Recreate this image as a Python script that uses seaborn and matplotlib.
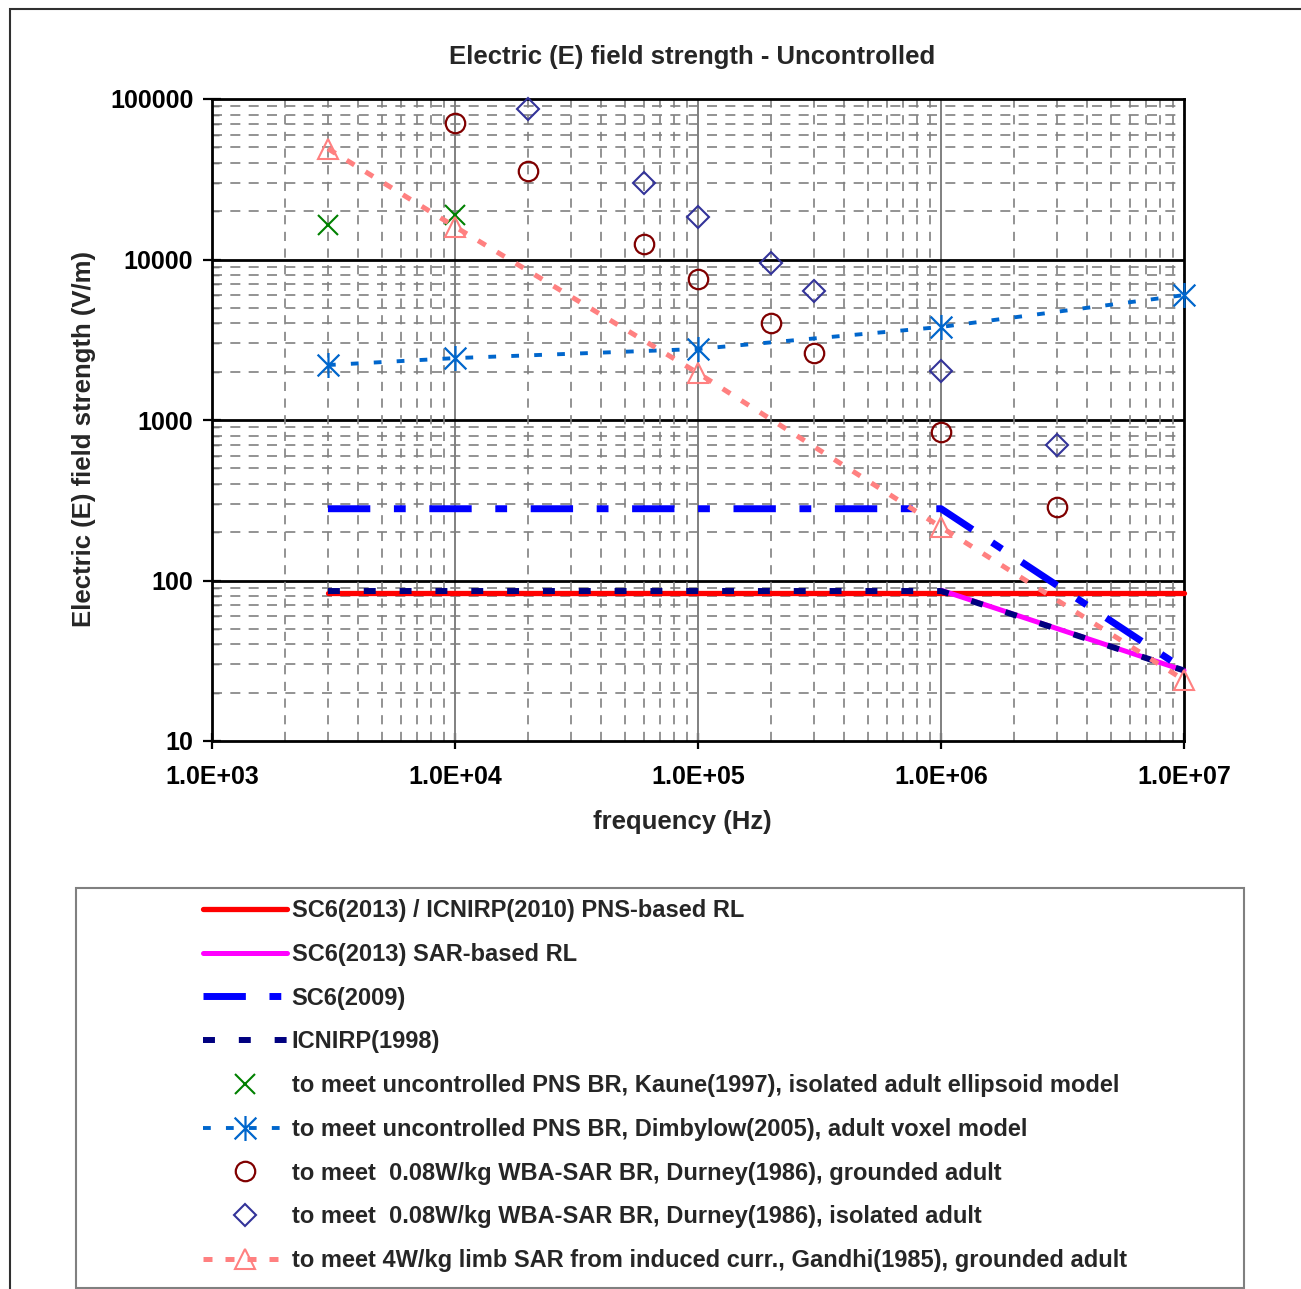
import matplotlib
matplotlib.use("Agg")
import matplotlib.pyplot as plt
from matplotlib.lines import Line2D
from matplotlib.patches import Rectangle
from matplotlib.path import Path
from matplotlib.ticker import FixedLocator, NullFormatter, LogLocator
import seaborn as sns
import pandas as pd

# ---- data -------------------------------------------------------------
pns_rl_freq = [3e3, 1e7]
pns_rl_e = [83, 83]

sar_rl_freq = [1e6, 1e7]
sar_rl_e = [87, 27.5]

sc6_2009_freq = [3e3, 1e6, 1e7]
sc6_2009_e = [280, 280, 28]

icnirp_1998_freq = [3e3, 1e6, 1e7]
icnirp_1998_e = [86, 86, 27.5]

kaune_freq = [3e3, 1e4]
kaune_e = [16400, 18900]

dimbylow_freq = [3e3, 1e4, 1e5, 1e6, 1e7]
dimbylow_e = [2200, 2430, 2770, 3800, 6000]

durney_gnd_freq = [1e4, 2e4, 6e4, 1e5, 2e5, 3e5, 1e6, 3e6]
durney_gnd_e = [70800, 35600, 12500, 7560, 4020, 2610, 842, 287]

durney_iso_freq = [2e4, 6e4, 1e5, 2e5, 3e5, 1e6, 3e6]
durney_iso_e = [86700, 30000, 18400, 9500, 6360, 2020, 698]

gandhi_freq = [3e3, 1e4, 1e5, 1e6, 1e7]
gandhi_e = [49000, 16000, 1960, 215, 24]

x_tick_values = [1e3, 1e4, 1e5, 1e6, 1e7]
x_tick_labels = ["1.0E+03", "1.0E+04", "1.0E+05", "1.0E+06", "1.0E+07"]
y_tick_values = [10, 100, 1000, 10000, 100000]
y_tick_labels = ["10", "100", "1000", "10000", "100000"]

labels = [
    "SC6(2013) / ICNIRP(2010) PNS-based RL",
    "SC6(2013) SAR-based RL",
    "SC6(2009)",
    "ICNIRP(1998)",
    "to meet uncontrolled PNS BR, Kaune(1997), isolated adult ellipsoid model",
    "to meet uncontrolled PNS BR, Dimbylow(2005), adult voxel model",
    "to meet  0.08W/kg WBA-SAR BR, Durney(1986), grounded adult",
    "to meet  0.08W/kg WBA-SAR BR, Durney(1986), isolated adult",
    "to meet 4W/kg limb SAR from induced curr., Gandhi(1985), grounded adult",
]

# ---- styles -----------------------------------------------------------
sns.set_theme(style="white")
plt.rcParams["font.family"] = ["Liberation Sans", "DejaVu Sans"]
plt.rcParams["font.weight"] = "bold"

W, H = 1301, 1289
fig = plt.figure(figsize=(W / 100, H / 100), dpi=100)
fig.patch.set_facecolor("white")


def fx(px):
    return px / W


def fy(py):
    return 1 - py / H


ax = fig.add_axes([fx(212), fy(741), fx(1184) - fx(212), fy(99) - fy(741)])
ax.set_xscale("log")
ax.set_yscale("log")
ax.set_xlim(1e3, 1e7)
ax.set_ylim(10, 1e5)

# asterisk marker: an X with a vertical bar through it
star_path = Path(
    [(-1, -1), (1, 1), (-1, 1), (1, -1), (0, -1.15), (0, 1.15)],
    [Path.MOVETO, Path.LINETO, Path.MOVETO, Path.LINETO, Path.MOVETO, Path.LINETO],
)

styles = [
    dict(color="#FF0000", lw=3.8, ls="-", marker=None),
    dict(color="#FF00FF", lw=3.6, ls="-", marker=None),
    dict(color="#0000FF", lw=5.0, ls=(0, (6.1, 3.4, 1.7, 3.4)), marker=None),
    dict(color="#000080", lw=4.3, ls=(0, (2.0, 4.0)), marker=None),
    dict(color="#008000", lw=0, ls="none", marker="x", ms=14, mew=1.5),
    dict(color="#0066CC", lw=2.8, ls=(0, (2.0, 3.9)), marker=star_path, ms=18, mew=1.6),
    dict(color="#800000", lw=0, ls="none", marker="o", ms=14, mew=1.6),
    dict(color="#333399", lw=0, ls="none", marker="D", ms=11, mew=1.5),
    dict(color="#FF8080", lw=3.6, ls=(0, (1.8, 2.6)), marker="^", ms=15, mew=1.5),
]

series = [
    (pns_rl_freq, pns_rl_e),
    (sar_rl_freq, sar_rl_e),
    (sc6_2009_freq, sc6_2009_e),
    (icnirp_1998_freq, icnirp_1998_e),
    (kaune_freq, kaune_e),
    (dimbylow_freq, dimbylow_e),
    (durney_gnd_freq, durney_gnd_e),
    (durney_iso_freq, durney_iso_e),
    (gandhi_freq, gandhi_e),
]

# ---- grid -------------------------------------------------------------
ax.xaxis.set_major_locator(FixedLocator(x_tick_values))
ax.yaxis.set_major_locator(FixedLocator(y_tick_values))
ax.xaxis.set_minor_locator(LogLocator(base=10, subs=range(2, 10), numticks=20))
ax.yaxis.set_minor_locator(LogLocator(base=10, subs=range(2, 10), numticks=20))
ax.xaxis.set_minor_formatter(NullFormatter())
ax.yaxis.set_minor_formatter(NullFormatter())
ax.set_xticklabels(x_tick_labels)
ax.set_yticklabels(y_tick_labels)

ax.grid(False)
for v in x_tick_values[1:-1]:
    ax.axvline(v, color="#808080", lw=1.4, zorder=1)
for v in y_tick_values[1:-1]:
    ax.axhline(v, color="black", lw=2.0, zorder=1)
for d in [1e3, 1e4, 1e5, 1e6]:
    for m in range(2, 10):
        ax.axvline(d * m, color="#808080", lw=1.2, ls=(0, (5.5, 4.5)), zorder=1)
for d in [10, 100, 1000, 10000]:
    for m in range(2, 10):
        ax.axhline(d * m, color="#808080", lw=1.2, ls=(0, (6, 5)), zorder=1)

# ---- series -----------------------------------------------------------
for (fq, ev), st in zip(series, styles):
    df = pd.DataFrame({"f": fq, "E": ev})
    kw = dict(color=st["color"], linewidth=st["lw"], linestyle=st["ls"])
    if st["marker"] is not None:
        kw.update(marker=st["marker"], markersize=st["ms"],
                  markeredgewidth=st["mew"], markerfacecolor="none",
                  markeredgecolor=st["color"])
    sns.lineplot(data=df, x="f", y="E", ax=ax, sort=False, estimator=None,
                 legend=False, zorder=3, clip_on=False, **kw)

# ---- axes cosmetics ---------------------------------------------------
for s in ax.spines.values():
    s.set_visible(True)
    s.set_color("black")
    s.set_linewidth(2.0)
    s.set_zorder(2.5)

ax.tick_params(axis="y", which="major", direction="inout", length=13, width=1.6,
               labelsize=18, pad=7, left=True, colors="black")
ax.tick_params(axis="y", which="minor", direction="in", length=5, width=1.0, left=True)
ax.tick_params(axis="x", which="major", direction="inout", length=12, width=1.6,
               labelsize=18, pad=11, bottom=True, colors="black")
ax.tick_params(axis="x", which="minor", bottom=False)
for lab in ax.get_xticklabels() + ax.get_yticklabels():
    lab.set_fontweight("bold")

ax.set_xlabel("frequency (Hz)", fontsize=18.5, fontweight="bold")
ax.xaxis.set_label_coords((682 - 212) / 972, -(822 - 741) / 642)
ax.xaxis.label.set_verticalalignment("center")
ax.set_ylabel("Electric (E) field strength (V/m)", fontsize=18.5, fontweight="bold")
ax.yaxis.set_label_coords(-(212 - 84) / 972, (741 - 439) / 642)
ax.yaxis.label.set_verticalalignment("center")
ax.text((692 - 212) / 972, (741 - 57) / 642, "Electric (E) field strength - Uncontrolled",
        transform=ax.transAxes, ha="center", va="center", fontsize=18.5,
        fontweight="bold")

# ---- outer frame ------------------------------------------------------
fig.patches.append(Rectangle((fx(10), fy(1400)), fx(1400), fy(9) - fy(1400),
                             transform=fig.transFigure, fill=False,
                             edgecolor="#303030", lw=1.5))

# ---- legend -----------------------------------------------------------
fig.patches.append(Rectangle((fx(76), fy(1288)), fx(1244) - fx(76), fy(888) - fy(1288),
                             transform=fig.transFigure, fill=False,
                             edgecolor="#808080", lw=1.5))
handles = []
for st in styles:
    h = Line2D([], [], color=st["color"], linewidth=st["lw"], linestyle=st["ls"])
    if st["marker"] is not None:
        h.set_marker(st["marker"])
        h.set_markersize(st["ms"])
        h.set_markeredgewidth(st["mew"])
        h.set_markerfacecolor("none")
        h.set_markeredgecolor(st["color"])
    handles.append(h)

fig.legend(handles, labels, loc="upper left",
           bbox_to_anchor=(fx(203), fy(899)), bbox_transform=fig.transFigure,
           frameon=False, borderaxespad=0, borderpad=0,
           prop=dict(family="Liberation Sans", weight="bold", size=17),
           handlelength=3.55, handletextpad=0.2, labelspacing=0.88,
           markerscale=1.0, numpoints=1)

fig.savefig("out.png", dpi=100, facecolor="white")
